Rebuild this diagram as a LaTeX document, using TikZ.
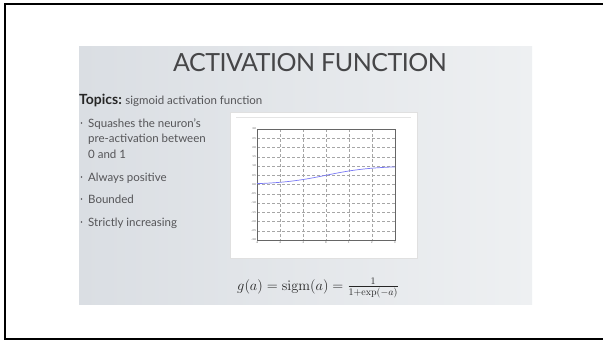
\documentclass[tikz,border=0pt]{standalone}
\usepackage{amsmath}
\usepackage[no-math]{fontspec}
\setmainfont{Lato}
\definecolor{slideA}{RGB}{218,222,227}
\definecolor{slideB}{RGB}{238,240,242}
\definecolor{ink}{RGB}{70,70,72}
\definecolor{bodyink}{RGB}{85,85,88}
\definecolor{curve}{RGB}{120,120,245}
\tikzset{
  frameline/.style={line width=2.2pt, black},
  bodytext/.style={anchor=base west, inner sep=0pt, text=bodyink, font=\fontsize{11.5}{13}\selectfont},
  bulletdot/.style={circle, fill=bodyink, inner sep=0pt, minimum size=1.6pt},
  gridline/.style={densely dashed, line width=0.35pt, black!35},
  ticklabel/.style={inner sep=0.3pt, font=\fontsize{2.6}{3}\selectfont, text=black!70}
}
\begin{document}
\begin{tikzpicture}[x=1pt,y=-1pt]
\useasboundingbox (0,0) rectangle (603,341);
\fill[white] (0,0) rectangle (603,341);
% page frame
\draw[frameline] (5,339) -- (5,3.8) -- (603,3.8);
\draw[frameline] (4,338.8) -- (603,338.8);
% slide background
\shade[left color=slideA, right color=slideB] (79,46) rectangle (532,304);
% title
\node[text=ink, font=\fontsize{25}{28}\selectfont\addfontfeatures{LetterSpace=-2}] (title) at (310,62.5) {ACTIVATION FUNCTION};
% topics line
\node[bodytext, text=black!85, font=\fontsize{14}{16}\selectfont\bfseries] (topics) at (79,104) {Topics:};
\node[bodytext] (topicstext) at ([xshift=3pt]topics.base east) {sigmoid activation function};
% bullet list
\node[bodytext] (b1) at (88,127) {Squashes the neuron's};
\node[bodytext] (b1b) at (88,142.5) {pre-activation between};
\node[bodytext] (b1c) at (88,158) {0 and 1};
\node[bodytext] (b2) at (88,181.5) {Always positive};
\node[bodytext] (b3) at (88,203.5) {Bounded};
\node[bodytext] (b4) at (88,226) {Strictly increasing};
\foreach \yy/\nm in {123/d1,177/d2,199/d3,222/d4}
  \node[bulletdot] (\nm) at (81.5,\yy) {};
% plot panel
\fill[white] (230,112) rectangle (417,258);
\draw[black!12, line width=0.5pt] (230,112) rectangle (417,258);
\draw[black!10, line width=0.6pt] (236,117) -- (411,117);
% grid
\foreach \i in {0,...,12} {
  \pgfmathsetmacro{\yy}{129+\i*111/12}
  \draw[gridline] (257,\yy) -- (395,\yy);
}
\foreach \i in {0,...,6} {
  \pgfmathsetmacro{\xx}{257+\i*23}
  \draw[gridline] (\xx,129) -- (\xx,240);
}
\draw[black!60, line width=0.5pt] (257,129) rectangle (395,240);
% tick labels
\foreach \v [count=\i from 0] in {3.0,2.5,2.0,1.5,1.0,0.5,0.0,-0.5,-1.0,-1.5,-2.0,-2.5,-3.0} {
  \pgfmathsetmacro{\yy}{129+\i*111/12}
  \node[ticklabel, anchor=east] at (256.5,\yy) {\v};
}
\foreach \v [count=\i from 0] in {-3,-2,-1,0,1,2,3} {
  \pgfmathsetmacro{\xx}{257+\i*23}
  \node[ticklabel, anchor=north] at (\xx,241) {\v};
}
% sigmoid curve
\draw[curve, line width=0.7pt, domain=-3:3, samples=60, smooth]
  plot ({257+(\x+3)*23}, {184.5-18.5/(1+exp(-\x))});
% formula
\node[inner sep=0pt, text=black!85, font=\fontsize{14.5}{17}\selectfont] (formula) at (318,288)
  {$g(a) = \mathrm{sigm}(a) = \frac{1}{1+\exp(-a)}$};
\end{tikzpicture}
\end{document}
